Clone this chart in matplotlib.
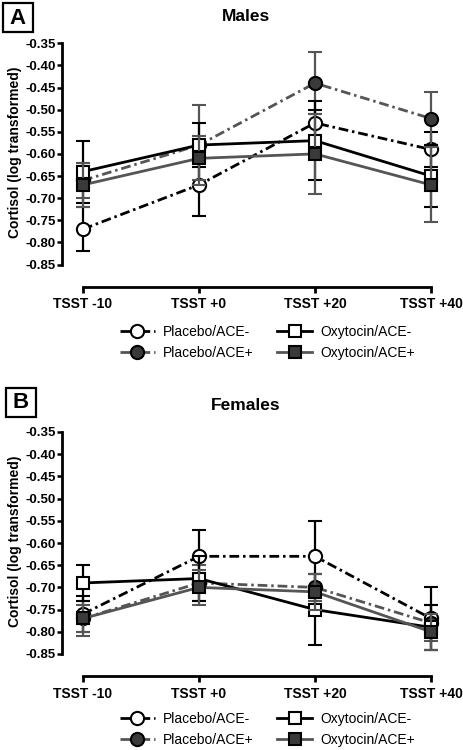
import numpy as np
import matplotlib
matplotlib.use('Agg')
import matplotlib.pyplot as plt
from matplotlib.patches import Rectangle

plt.rcParams['font.family'] = ['Liberation Sans', 'DejaVu Sans']

times = ['TSST -10', 'TSST +0', 'TSST +20', 'TSST +40']
labels = ['Placebo/ACE-', 'Placebo/ACE+', 'Oxytocin/ACE-', 'Oxytocin/ACE+']

# males
placebo_neg_m = [-0.77, -0.67, -0.53, -0.59]
placebo_neg_m_err = [0.05, 0.07, 0.03, 0.04]
placebo_pos_m = [-0.66, -0.58, -0.44, -0.52]
placebo_pos_m_err = [0.04, 0.09, 0.07, 0.06]
oxy_neg_m = [-0.64, -0.58, -0.57, -0.65]
oxy_neg_m_err = [0.07, 0.05, 0.09, 0.07]
oxy_pos_m = [-0.67, -0.61, -0.60, -0.67]
oxy_pos_m_err = [0.05, 0.05, 0.09, 0.085]

# females
placebo_neg_f = [-0.76, -0.63, -0.63, -0.77]
placebo_neg_f_err = [0.04, 0.06, 0.08, 0.07]
placebo_pos_f = [-0.77, -0.69, -0.70, -0.78]
placebo_pos_f_err = [0.04, 0.04, 0.03, 0.04]
oxy_neg_f = [-0.69, -0.68, -0.75, -0.79]
oxy_neg_f_err = [0.04, 0.05, 0.08, 0.05]
oxy_pos_f = [-0.77, -0.70, -0.71, -0.80]
oxy_pos_f_err = [0.03, 0.04, 0.04, 0.04]

yticks = [-0.35, -0.40, -0.45, -0.50, -0.55, -0.60, -0.65, -0.70, -0.75, -0.80, -0.85]

GREY = '#555555'
FILL = '#3a3a3a'
dashdot = (0, (3.5, 1.4, 0.9, 1.4))

styles = [
    dict(color='black', ls=dashdot, marker='o', ms=9.5, mfc='white', ecolor='black'),
    dict(color=GREY, ls=dashdot, marker='o', ms=9.5, mfc=FILL, ecolor=GREY),
    dict(color='black', ls='-', marker='s', ms=8.5, mfc='white', ecolor='black'),
    dict(color=GREY, ls='-', marker='s', ms=8.5, mfc=FILL, ecolor=GREY),
]

W, H = 463, 750
fig = plt.figure(figsize=(W / 100, H / 100), dpi=100)


def panel(top_px, bot_px, series, errs, title):
    ax = fig.add_axes([62 / W, 1 - bot_px / H, 378 / W, (bot_px - top_px) / H])
    # spine placement first: set_position resets the ticks
    for s in ['top', 'right']:
        ax.spines[s].set_visible(False)
    ax.spines['bottom'].set_position(('outward', 16))
    ax.spines['left'].set_linewidth(2.0)
    ax.spines['bottom'].set_linewidth(2.0)

    x = np.arange(len(times))
    handles = {}
    for i in [3, 1, 2, 0]:
        st = styles[i]
        c = ax.errorbar(x, series[i], yerr=errs[i], color=st['color'], ls=st['ls'],
                        lw=2.0, marker=st['marker'], ms=st['ms'], mfc=st['mfc'],
                        mec='black', mew=1.5, ecolor=st['ecolor'], elinewidth=1.6,
                        capsize=5, capthick=1.6, clip_on=False, zorder=3 + i)
        handles[i] = c.lines[0]
    handles = [handles[i] for i in range(4)]

    ax.set_xlim(-0.181, 3.078)
    ax.set_ylim(-0.85, -0.35)
    ax.spines['left'].set_bounds(-0.85, -0.35)
    ax.spines['bottom'].set_bounds(0, 3)
    ax.set_xticks(x)
    ax.set_xticklabels(times, fontsize=10, fontweight='bold')
    ax.set_yticks(yticks)
    ax.set_yticklabels([f'{v:.2f}' for v in yticks], fontsize=9.5, fontweight='bold')
    ax.tick_params(axis='y', length=3.5, width=1.8, pad=1)
    ax.tick_params(axis='x', length=4.5, width=2.0, pad=3)

    fig.text(246 / W, 1 - (top_px - 27) / H, title, ha='center', va='center',
             fontsize=12.5, fontweight='bold')
    fig.text(15 / W, 1 - ((top_px + bot_px) / 2 - 2) / H, 'Cortisol (log transformed)',
             rotation=90, ha='center', va='center', fontsize=10, fontweight='bold')
    return handles


hA = panel(43.3, 264.5,
           [placebo_neg_m, placebo_pos_m, oxy_neg_m, oxy_pos_m],
           [placebo_neg_m_err, placebo_pos_m_err, oxy_neg_m_err, oxy_pos_m_err],
           'Males')
hB = panel(432, 654,
           [placebo_neg_f, placebo_pos_f, oxy_neg_f, oxy_pos_f],
           [placebo_neg_f_err, placebo_pos_f_err, oxy_neg_f_err, oxy_pos_f_err],
           'Females')

for hs, top in [(hA, 325), (hB, 712)]:
    fig.legend(hs, labels, loc='upper left', bbox_to_anchor=(120 / W, 1 - top / H),
               ncol=2, frameon=False, fontsize=10, handlelength=2.5, handletextpad=0.6,
               columnspacing=1.7, labelspacing=0.5, borderpad=0, borderaxespad=0)

# panel letters in boxes
for letter, (bx, by) in [('A', (3, 3)), ('B', (6, 388))]:
    fig.patches.append(Rectangle((bx / W, 1 - (by + 29) / H), 30 / W, 29 / H,
                                 transform=fig.transFigure, fill=False, lw=1.6,
                                 edgecolor='black'))
    fig.text((bx + 15) / W, 1 - (by + 15) / H, letter, ha='center', va='center',
             fontsize=16, fontweight='bold')

fig.savefig('out.png', dpi=100, facecolor='white')
